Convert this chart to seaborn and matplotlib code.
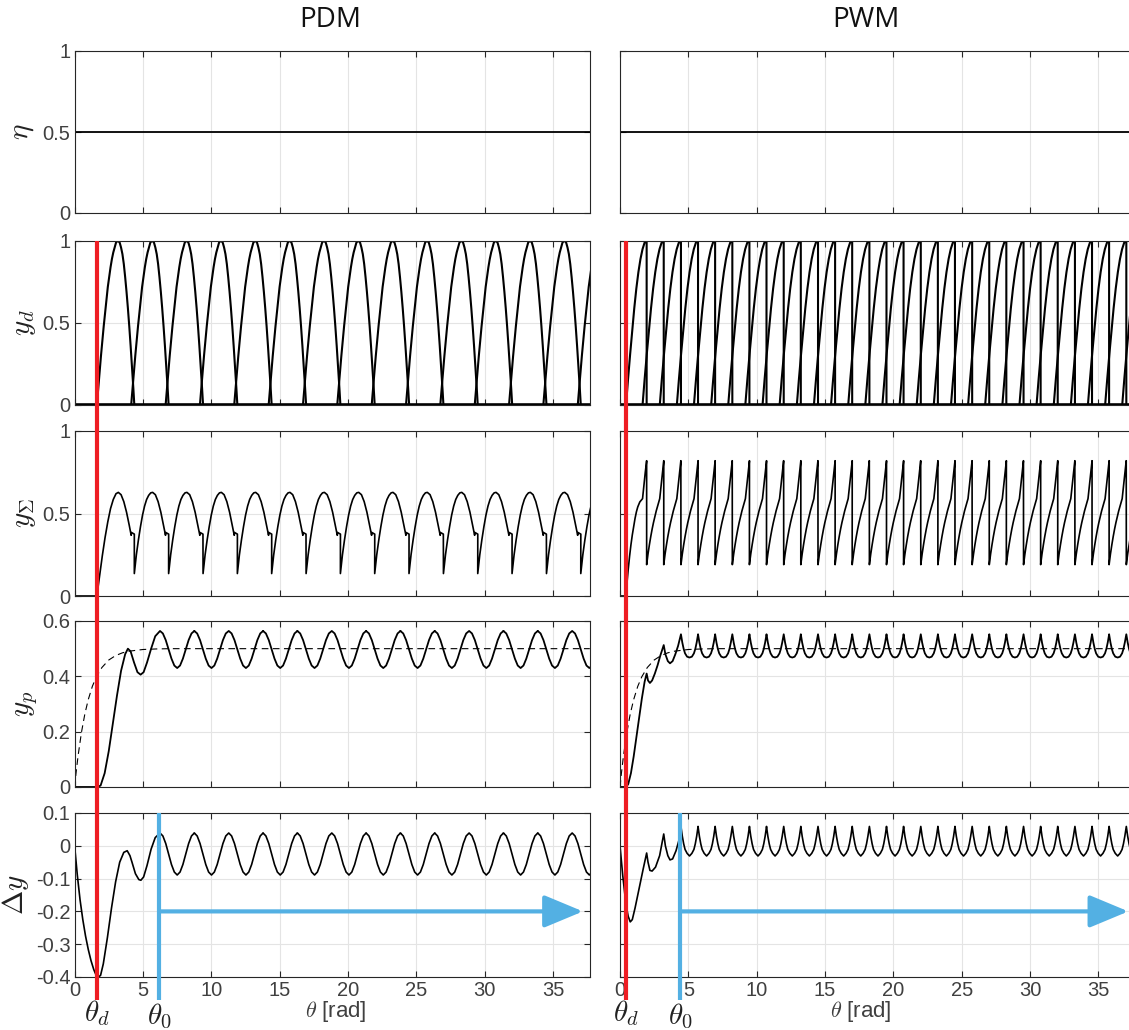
import numpy as np
import pandas as pd
import matplotlib
matplotlib.use("Agg")
import matplotlib.pyplot as plt
from matplotlib.lines import Line2D
from matplotlib.transforms import blended_transform_factory
import seaborn as sns

XMAX = 37.7

# ---------------- values ----------------
titles = ["PDM", "PWM"]
x_ticks = [0, 5, 10, 15, 20, 25, 30, 35]
x_ticklabels = ["0", "5", "10", "15", "20", "25", "30", "35"]
row_labels = [r"$\eta$", r"$y_d$", r"$y_{\mathit{\Sigma}}$", r"$y_p$", r"$\Delta y$"]
y_ticks = [[0, 0.5, 1], [0, 0.5, 1], [0, 0.5, 1], [0, 0.2, 0.4, 0.6],
           [-0.4, -0.3, -0.2, -0.1, 0, 0.1]]
y_ticklabels = [["0", "0.5", "1"], ["0", "0.5", "1"], ["0", "0.5", "1"],
                ["0", "0.2", "0.4", "0.6"],
                ["-0.4", "-0.3", "-0.2", "-0.1", "0", "0.1"]]
y_limits = [(0, 1), (0, 1), (0, 1), (0, 0.6), (-0.4, 0.1)]

eta_x = [0.0, XMAX]
eta_y = [0.5, 0.5]

# reference response (dashed)
ref_x = [0, 0.1, 0.25, 0.5, 0.75, 1.0, 1.3, 1.6, 2.0, 2.5, 3.0, 3.5, 4.0, 5.0, 6.0, 7.0, XMAX]
ref_y = [0, 0.048, 0.111, 0.197, 0.264, 0.316, 0.364, 0.399, 0.432, 0.459, 0.475,
         0.485, 0.491, 0.497, 0.499, 0.5, 0.5]

# ---- PDM ----
pdm_theta_d = 1.63
pdm_theta_0 = 6.19
pdm_arc_starts = [1.63, 4.14, 6.66, 9.17, 11.68, 14.20, 16.71, 19.22, 21.74, 24.25,
                  26.76, 29.28, 31.79, 34.30, 36.82]
pdm_arc_u = [0.0, 0.1, 0.2, 0.3, 0.4, 0.5, 0.6, 0.7, 0.8, 0.9, 1.0, 1.1, 1.2, 1.3, 1.4,
             1.5, 1.57, 1.67, 1.77, 1.87, 1.97, 2.07, 2.17, 2.27, 2.37, 2.47, 2.57, 2.67, 2.74]
pdm_arc_y = [0.0, 0.10, 0.20, 0.30, 0.39, 0.48, 0.56, 0.64, 0.72, 0.78, 0.84, 0.89, 0.93,
             0.96, 0.99, 1.0, 1.0, 0.99, 0.96, 0.92, 0.86, 0.78, 0.69, 0.59, 0.48, 0.36,
             0.23, 0.10, 0.0]

pdm_sum_head_x = [0, 1.63, 1.83, 2.03, 2.23, 2.43, 2.63, 2.83, 3.03, 3.20, 3.40, 3.60,
                  3.80, 4.00, 4.14, 4.16, 4.37]
pdm_sum_head_y = [0, 0, 0.125, 0.245, 0.355, 0.45, 0.53, 0.585, 0.62, 0.628, 0.614,
                  0.572, 0.508, 0.428, 0.368, 0.385, 0.375]
pdm_sum_drops = [4.37, 6.88, 9.40, 11.91, 14.42, 16.94, 19.45, 21.96, 24.47, 26.99,
                 29.50, 32.01, 34.53, 37.04]
pdm_sum_cyc_u = [0, 0.15, 0.3, 0.45, 0.6, 0.75, 0.9, 1.05, 1.2, 1.34, 1.54, 1.74, 1.94,
                 2.14, 2.283, 2.30, 2.513]
pdm_sum_cyc_y = [0.136, 0.25, 0.34, 0.42, 0.49, 0.545, 0.585, 0.61, 0.625, 0.628, 0.614,
                 0.572, 0.508, 0.428, 0.368, 0.385, 0.375]

pdm_yp_head_x = [0, 1.63, 1.9, 2.2, 2.5, 2.8, 3.1, 3.4, 3.7, 3.9, 4.1, 4.35, 4.6, 4.83,
                 5.05, 5.3, 5.6, 5.9, 6.25]
pdm_yp_head_y = [0, 0, 0.005, 0.05, 0.13, 0.23, 0.33, 0.42, 0.48, 0.50, 0.49, 0.45,
                 0.415, 0.406, 0.415, 0.45, 0.50, 0.545, 0.564]
pdm_peaks = [6.25, 8.76, 11.28, 13.79, 16.30, 18.82, 21.33, 23.84, 26.35, 28.87,
             31.38, 33.89, 36.41]
pdm_cyc_u = [0, 0.209, 0.419, 0.628, 0.838, 1.047, 1.257, 1.466, 1.675, 1.885, 2.094,
             2.304, 2.513]
pdm_yp_cyc_y = [0.564, 0.555, 0.531, 0.497, 0.464, 0.439, 0.430, 0.439, 0.464, 0.497,
                0.531, 0.555, 0.564]

pdm_dy_head_x = [0, 0.2, 0.4, 0.6, 0.8, 1.0, 1.2, 1.4, 1.63, 1.75, 1.9, 2.1, 2.4, 2.7,
                 3.0, 3.3, 3.6, 3.85, 4.05, 4.2, 4.45, 4.7, 4.85, 5.05, 5.3, 5.6, 5.9, 6.25]
pdm_dy_head_y = [0, -0.09, -0.165, -0.225, -0.275, -0.316, -0.35, -0.377, -0.40, -0.40,
                 -0.395, -0.36, -0.28, -0.19, -0.11, -0.05, -0.02, -0.015, -0.03, -0.05,
                 -0.085, -0.103, -0.105, -0.095, -0.06, -0.01, 0.025, 0.039]
pdm_dy_cyc_y = [0.039, 0.030, 0.007, -0.025, -0.057, -0.080, -0.089, -0.080, -0.057,
                -0.025, 0.007, 0.030, 0.039]

# ---- PWM ----
pwm_theta_d = 0.44
pwm_theta_0 = 4.41
pwm_peaks = [1.95, 3.20, 4.46, 5.71, 6.96, 8.22, 9.47, 10.72, 11.98, 13.23, 14.49,
             15.74, 16.99, 18.25, 19.50, 20.75, 22.01, 23.26, 24.51, 25.77, 27.02,
             28.27, 29.53, 30.78, 32.03, 33.29, 34.54, 35.79, 37.05, 38.30]
pwm_pulse_starts = [0.44, 1.65, 2.91, 4.16, 5.41, 6.67, 7.92, 9.17, 10.43, 11.68, 12.94,
                    14.19, 15.44, 16.70, 17.95, 19.20, 20.46, 21.71, 22.96, 24.22, 25.47,
                    26.72, 27.98, 29.23, 30.48, 31.74, 32.99, 34.24, 35.50, 36.75]
pwm_pulse_f = [0, 0.1, 0.2, 0.3, 0.4, 0.5, 0.6, 0.7, 0.8, 0.9, 1.0, 1.0]
pwm_pulse_y = [0, 0.16, 0.31, 0.45, 0.59, 0.71, 0.81, 0.89, 0.95, 0.99, 1.0, 0.0]

pwm_sum_head_x = [0, 0.44, 0.5, 0.6, 0.7, 0.8, 0.9, 1.0, 1.1, 1.2, 1.3, 1.45, 1.65,
                  1.75, 1.85, 1.95]
pwm_sum_head_y = [0, 0, 0.07, 0.16, 0.24, 0.31, 0.37, 0.42, 0.47, 0.51, 0.54, 0.57,
                  0.59, 0.67, 0.75, 0.82]
pwm_cyc_u = [0, 0.1, 0.2, 0.3, 0.4, 0.5, 0.6, 0.7, 0.8, 0.957, 1.05, 1.15, 1.2535]
pwm_sum_cyc_y = [0.19, 0.255, 0.31, 0.36, 0.405, 0.445, 0.48, 0.515, 0.545, 0.59, 0.66,
                 0.74, 0.82]

pwm_yp_head_x = [0, 0.44, 0.6, 0.8, 1.0, 1.2, 1.4, 1.6, 1.8, 1.95, 2.05, 2.19, 2.35,
                 2.55, 2.75, 2.95, 3.20, 3.32, 3.5, 3.66, 3.85, 4.05, 4.25, 4.46]
pwm_yp_head_y = [0, 0, 0.01, 0.05, 0.11, 0.18, 0.25, 0.32, 0.38, 0.41, 0.385, 0.376,
                 0.385, 0.41, 0.44, 0.475, 0.513, 0.48, 0.455, 0.447, 0.455, 0.48, 0.51,
                 0.552]
pwm_cusp_u = [0, 0.1, 0.2, 0.3, 0.45, 0.627, 0.8, 0.95, 1.05, 1.15, 1.2535]
pwm_yp_cyc_y = [0.552, 0.522, 0.499, 0.483, 0.471, 0.468, 0.471, 0.483, 0.499, 0.522,
                0.552]

pwm_dy_head_x = [0, 0.2, 0.44, 0.6, 0.75, 0.9, 1.1, 1.3, 1.5, 1.7, 1.95, 2.05, 2.19,
                 2.35, 2.6, 2.9, 3.20, 3.32, 3.5, 3.66, 3.85, 4.1, 4.3, 4.46]
pwm_dy_head_y = [0, -0.09, -0.18, -0.215, -0.232, -0.225, -0.19, -0.15, -0.11, -0.07,
                 -0.022, -0.05, -0.075, -0.077, -0.065, -0.03, 0.036, 0.0, -0.03, -0.043,
                 -0.04, -0.015, 0.015, 0.059]
pwm_dy_cyc_y = [0.059, 0.029, 0.006, -0.011, -0.023, -0.031, -0.023, -0.011, 0.006,
                0.029, 0.059]

# ---------------- helpers ----------------
def tiled(head_x, head_y, anchors, cyc_u, cyc_y):
    xs, ys = list(head_x), list(head_y)
    for a in anchors:
        xs += [a + u for u in cyc_u]
        ys += list(cyc_y)
    return pd.DataFrame({"x": xs, "y": ys})


def pdm_arcs():
    rows = []
    for i, s in enumerate(pdm_arc_starts):
        for u, v in zip(pdm_arc_u, pdm_arc_y):
            rows.append((i, s + u, v))
    return pd.DataFrame(rows, columns=["pulse", "x", "y"])


def pwm_pulses():
    rows = []
    for i, (s, e) in enumerate(zip(pwm_pulse_starts, pwm_peaks)):
        for f, v in zip(pwm_pulse_f, pwm_pulse_y):
            rows.append((i, s + f * (e - s), v))
    return pd.DataFrame(rows, columns=["pulse", "x", "y"])


def draw(ax, df, lw=1.2, units=None, **kw):
    sns.lineplot(data=df, x="x", y="y", units=units, estimator=None, sort=False,
                 color="black", lw=lw, ax=ax, legend=False, **kw)
    ax.set_xlabel("")
    ax.set_ylabel("")


# ---------------- figure ----------------
sns.set_style("ticks")
plt.rcParams["font.family"] = ["Liberation Sans", "DejaVu Sans"]
plt.rcParams["mathtext.fontset"] = "cm"
plt.rcParams["axes.unicode_minus"] = False

W, H = 1129, 1030
fig = plt.figure(figsize=(W / 100, H / 100), dpi=100)
col_left = [74.6, 620.0]
ax_w = 515.2
rows_px = [(51, 213), (241, 405), (431, 596), (621, 787), (813, 977)]
axes = [[fig.add_axes([cl / W, 1 - b / H, ax_w / W, (b - t) / H]) for cl in col_left]
        for (t, b) in rows_px]

RED = "#EE1D23"
BLUE = "#53B0E3"
SPINE = "#262626"
TXT = "#404040"

for c in range(2):
    draw(axes[0][c], pd.DataFrame({"x": eta_x, "y": eta_y}), lw=1.3)
    draw(axes[1][c], pd.DataFrame({"x": [0, XMAX], "y": [0, 0]}), lw=2.6)
    draw(axes[1][c], pdm_arcs() if c == 0 else pwm_pulses(), lw=1.5, units="pulse")
    if c == 0:
        draw(axes[2][c], tiled(pdm_sum_head_x, pdm_sum_head_y, pdm_sum_drops,
                               pdm_sum_cyc_u, pdm_sum_cyc_y), lw=1.2)
        draw(axes[3][c], tiled(pdm_yp_head_x, pdm_yp_head_y, pdm_peaks, pdm_cyc_u,
                               pdm_yp_cyc_y), lw=1.3)
        draw(axes[4][c], tiled(pdm_dy_head_x, pdm_dy_head_y, pdm_peaks, pdm_cyc_u,
                               pdm_dy_cyc_y), lw=1.2)
    else:
        draw(axes[2][c], tiled(pwm_sum_head_x, pwm_sum_head_y, pwm_peaks,
                               pwm_cyc_u, pwm_sum_cyc_y), lw=1.2)
        draw(axes[3][c], tiled(pwm_yp_head_x, pwm_yp_head_y, pwm_peaks[2:], pwm_cusp_u,
                               pwm_yp_cyc_y), lw=1.3)
        draw(axes[4][c], tiled(pwm_dy_head_x, pwm_dy_head_y, pwm_peaks[2:], pwm_cusp_u,
                               pwm_dy_cyc_y), lw=1.2)
    draw(axes[3][c], pd.DataFrame({"x": ref_x, "y": ref_y}), lw=0.8,
         linestyle=(0, (6, 4)))

label_x = [-0.074, -0.071, -0.071, -0.068, -0.085]
for r in range(5):
    for c in range(2):
        ax = axes[r][c]
        ax.set_xlim(0, XMAX)
        ax.set_ylim(*y_limits[r])
        ax.set_xticks(x_ticks)
        ax.set_yticks(y_ticks[r])
        ax.set_xticklabels(x_ticklabels if r == 4 else [])
        ax.set_yticklabels(y_ticklabels[r] if c == 0 else [])
        ax.grid(True, color="#e4e4e4", lw=0.8)
        ax.set_axisbelow(True)
        ax.tick_params(direction="in", length=4, width=0.8, top=True, right=True,
                       colors=SPINE, labelcolor=TXT, labelsize=14.5, pad=3)
        for s in ax.spines.values():
            s.set_color(SPINE)
            s.set_linewidth(0.8)
        if c == 0:
            ax.set_ylabel(row_labels[r], fontsize=21, color="#222222")
            ax.yaxis.set_label_coords(label_x[r], 0.5)

title_x = [330, 866]
xlabel_x = [336, 861]
for c, (td, t0) in enumerate([(pdm_theta_d, pdm_theta_0), (pwm_theta_d, pwm_theta_0)]):
    ax = axes[4][c]
    trans = blended_transform_factory(ax.transData, fig.transFigure)
    fig.add_artist(Line2D([td, td], [1 - 241 / H, 1 - 1000 / H], transform=trans,
                          color=RED, lw=3, zorder=10, solid_capstyle="butt"))
    fig.add_artist(Line2D([t0, t0], [1 - 813 / H, 1 - 1000 / H], transform=trans,
                          color=BLUE, lw=3, zorder=10, solid_capstyle="butt"))
    ax.annotate("", xy=(37.2, -0.2), xytext=(t0, -0.2),
                arrowprops=dict(arrowstyle="-|>,head_length=2.4,head_width=1.0",
                                color=BLUE, lw=3, shrinkA=0, shrinkB=0),
                annotation_clip=False, zorder=9)
    fig.text(td, 1 - 1013 / H, r"$\theta_d$", transform=trans, ha="center",
             va="center", fontsize=21, color="#222222")
    fig.text(t0, 1 - 1016 / H, r"$\theta_0$", transform=trans, ha="center",
             va="center", fontsize=21, color="#222222")
    fig.text(xlabel_x[c] / W, 1 - 1011 / H, r"$\theta$ [rad]", ha="center",
             va="center", fontsize=16, color=TXT)
    fig.text(title_x[c] / W, 1 - 20 / H, titles[c], ha="center", va="center",
             fontsize=20, color="#111111", family=["Open Sans", "DejaVu Sans"])

fig.savefig("out.png", dpi=100)
